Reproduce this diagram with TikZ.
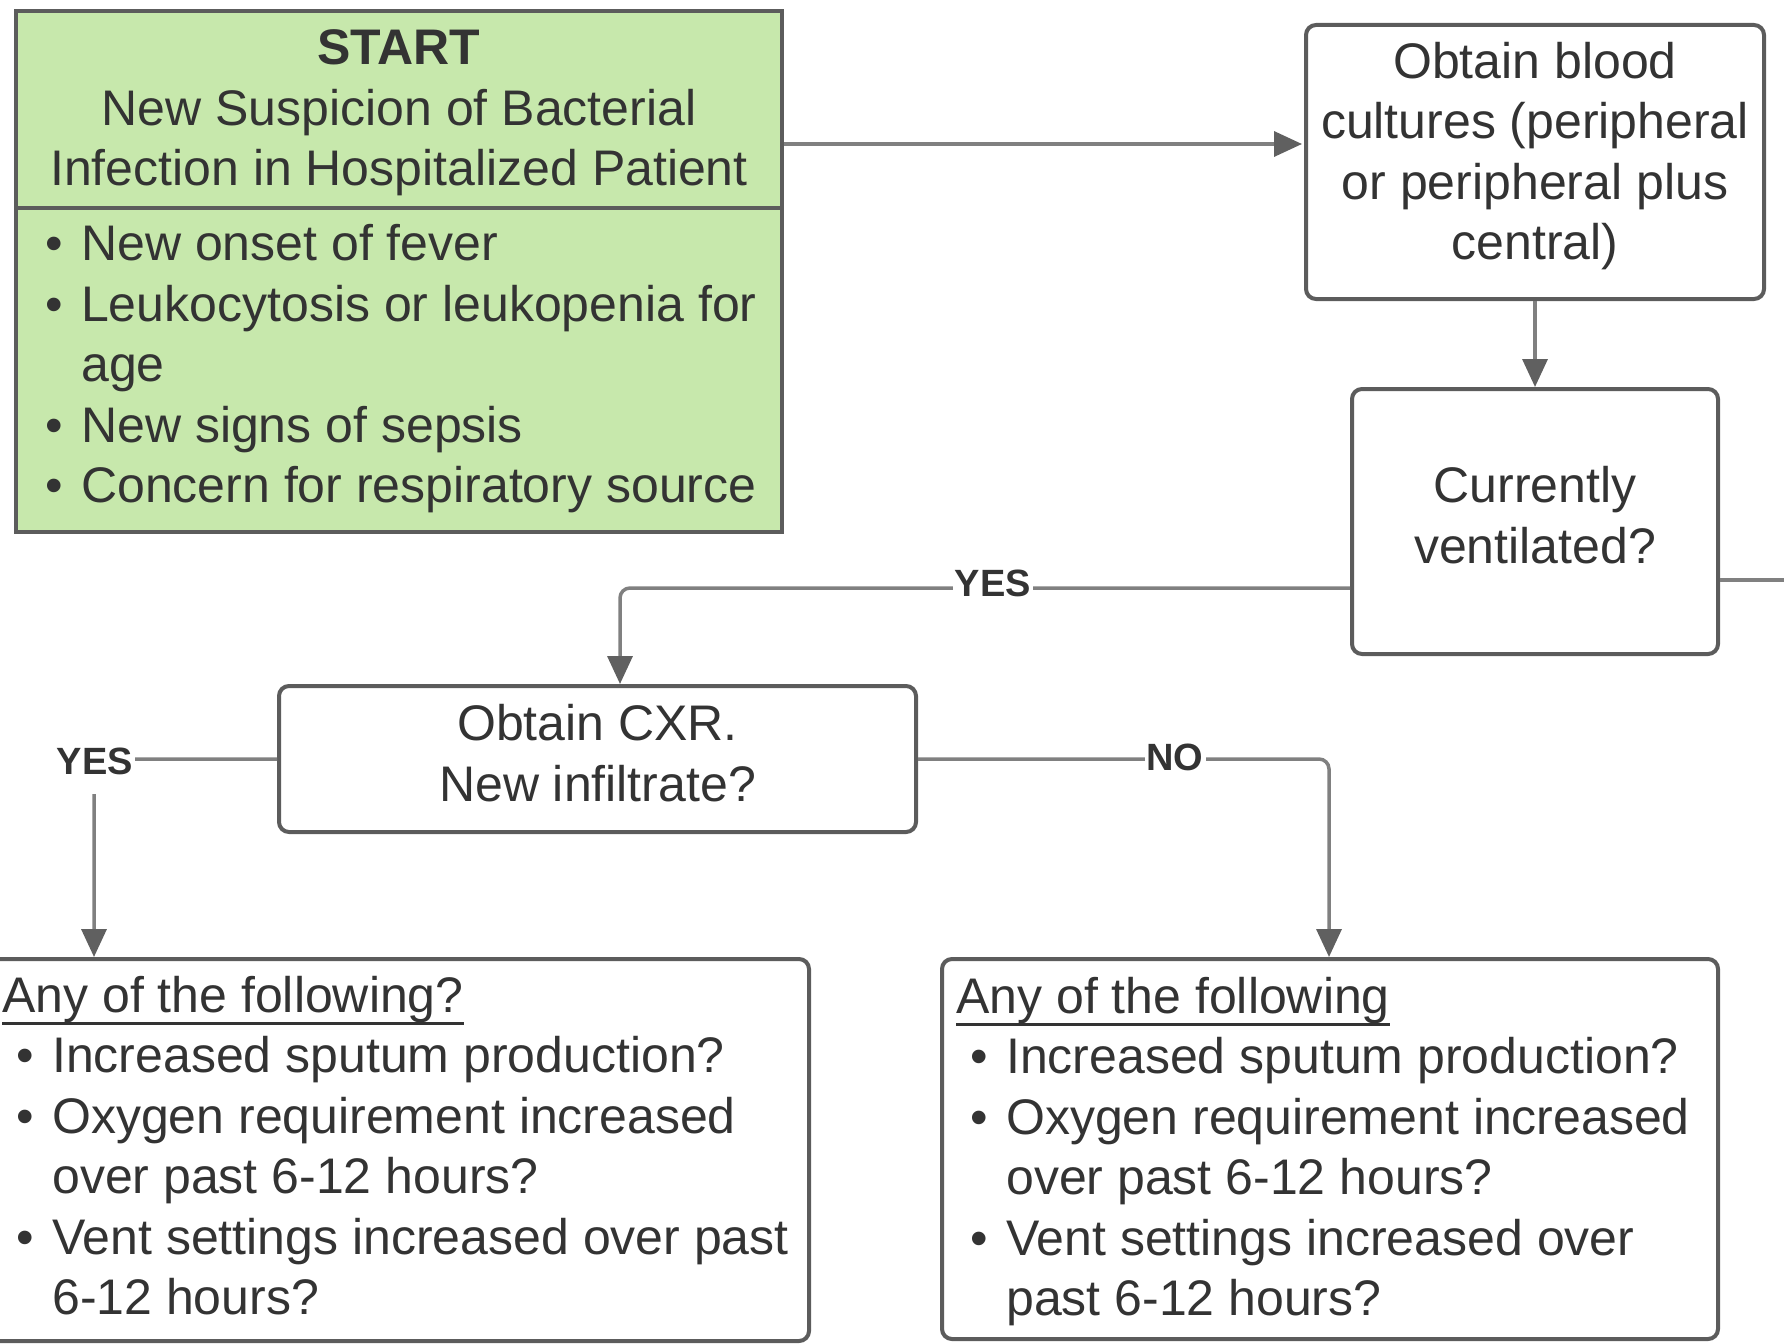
\documentclass[tikz,border=0pt]{standalone}
\usepackage{fontspec}
\setmainfont{Liberation Sans}
\usetikzlibrary{arrows.meta,calc}
\definecolor{boxline}{HTML}{5C5C5C}
\definecolor{conline}{HTML}{808080}
\definecolor{tipcol}{HTML}{606060}
\definecolor{txt}{HTML}{333333}
\definecolor{startgreen}{HTML}{C7E8AC}
\newcommand{\bul}{\makebox[36pt][l]{\textbullet}}
\newcommand{\ulx}[1]{\begingroup\setbox0\hbox{#1}\rlap{\rule[-13pt]{\wd0}{3pt}}\box0\endgroup}
\begin{document}
\begin{tikzpicture}[x=1pt,y=-1pt,
  box/.style={draw=boxline, line width=4pt, rounded corners=10pt, fill=white, inner sep=0pt},
  sbox/.style={draw=boxline, line width=4pt, fill=startgreen, inner sep=0pt},
  txtnode/.style={text=txt, inner sep=0pt, font=\fontsize{50}{60.5}\selectfont},
  conn/.style={draw=conline, line width=3.5pt, rounded corners=10pt},
  arr/.style={-{Triangle[length=28pt,width=25pt,color=tipcol]}},
  lbl/.style={fill=white, text=txt, inner xsep=2pt, inner ysep=3pt, font=\fontsize{38}{40}\selectfont\bfseries}
]
\useasboundingbox (0,0) rectangle (1784,1343);
\clip (0,0) rectangle (1784,1343);

% start box
\node[sbox, minimum width=766pt, minimum height=197pt] (starttop) at (399,109.5) {};
\node[sbox, minimum width=766pt, minimum height=324pt] (startlist) at (399,370) {};
\node[txtnode, align=center] (starttxt) at (399,113) {\textbf{START}\\New Suspicion of Bacterial\\Infection in Hospitalized Patient};
\node[txtnode, align=left, anchor=west] (startitems) at (45,369) {\bul New onset of fever\\
\bul Leukocytosis or leukopenia for\\
\hspace*{36pt}age\\
\bul New signs of sepsis\\
\bul Concern for respiratory source};

% blood cultures
\node[box, minimum width=458pt, minimum height=274pt] (blood) at (1535,162) {};
\node[txtnode, align=center] (bloodtxt) at (1535,156) {Obtain blood\\cultures (peripheral\\or peripheral plus\\central)};

% ventilated
\node[box, minimum width=366pt, minimum height=265pt] (vent) at (1535,521.5) {};
\node[txtnode, align=center] (venttxt) at (1535,515) {Currently\\ventilated?};

% CXR
\node[box, minimum width=637pt, minimum height=146pt] (cxr) at (597.5,759) {};
\node[txtnode, align=center] (cxrtxt) at (597.5,753) {Obtain CXR.\\New infiltrate?};

% bottom boxes
\node[box, minimum width=849pt, minimum height=382pt] (blbox) at (384.5,1150) {};
\node[txtnode, align=left, anchor=west] (bltxt) at (2,1145.5) {\ulx{Any of the following?}\\
\hspace*{14pt}\bul Increased sputum production?\\
\hspace*{14pt}\bul Oxygen requirement increased\\
\hspace*{50pt}over past 6-12 hours?\\
\hspace*{14pt}\bul Vent settings increased over past\\
\hspace*{50pt}6-12 hours?};

\node[box, minimum width=776pt, minimum height=380pt] (brbox) at (1330,1149) {};
\node[txtnode, align=left, anchor=west] (brtxt) at (956,1151.5) {\ulx{Any of the following}\\
\hspace*{14pt}\bul Increased sputum production?\\
\hspace*{14pt}\bul Oxygen requirement increased\\
\hspace*{50pt}over past 6-12 hours?\\
\hspace*{14pt}\bul Vent settings increased over\\
\hspace*{50pt}past 6-12 hours?};

% connectors
\coordinate (a1) at (0,144);
\coordinate (vr) at (1800,580);
\coordinate (y1) at (620,588);
\coordinate (y2) at (94,759);
\coordinate (n1) at (1329,759);

\draw[conn, arr] (starttop.east |- a1) -- ($(blood.west |- a1)+(-2,0)$);
\draw[conn, arr] (blood.south) -- (vent.north);
\draw[conn] (vent.east |- vr) -- (vr);
\draw[conn, arr] (vent.west |- y1) -| (cxr.north -| y1);
\draw[conn, arr] (cxr.west) -| (blbox.north -| y2);
\draw[conn, arr] (cxr.east) -| (brbox.north -| n1);

% labels
\node[lbl] (yes1) at (993,583) {YES};
\node[lbl, minimum height=66pt] (yes2) at (95,761) {YES};
\node[lbl] (no1) at (1175,757) {NO};
\end{tikzpicture}
\end{document}
